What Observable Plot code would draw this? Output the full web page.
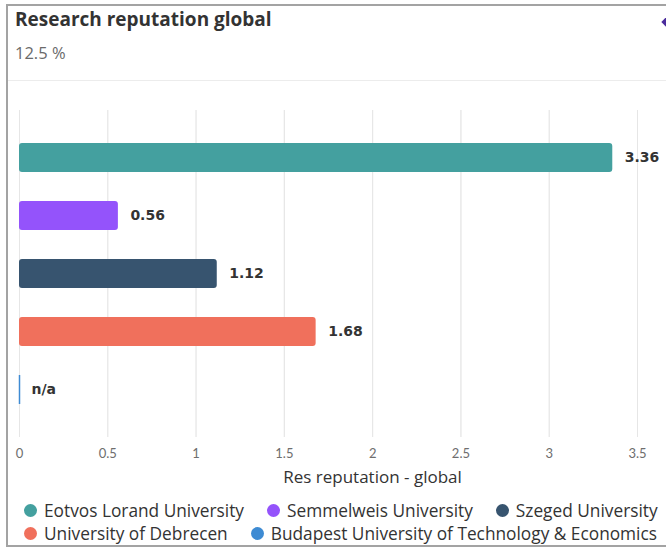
<!DOCTYPE html>
<html>
<head>
<meta charset="utf-8">
<script src="https://cdn.jsdelivr.net/npm/d3@7"></script>
<script src="https://cdn.jsdelivr.net/npm/@observablehq/plot@0.6"></script>
<style>
  html, body { margin: 0; padding: 0; background: #fff; }
  body { width: 666px; height: 547px; overflow: hidden; position: relative; font-family: "Open Sans", "Noto Sans", sans-serif; }
  #frame { position: absolute; left: 6px; top: 4px; width: 720px; height: 539px; border: 2px solid #a3a3a3; box-sizing: content-box; }
  #title { position: absolute; left: 15px; top: 6px; font-size: 19px; font-weight: 700; color: #333; }
  #subtitle { position: absolute; left: 15px; top: 41px; font-size: 16.5px; color: #6a6a6a; }
  #sep { position: absolute; left: 8px; top: 80px; width: 700px; height: 1px; background: #ececec; }
  #diamond { position: absolute; left: 663px; top: 18px; width: 8px; height: 8px; background: #4b2c9c; transform: rotate(45deg); }
  #chart { position: absolute; left: 0; top: 100px; }
  #legend { position: absolute; left: 24px; top: 499px; width: 642px; display: flex; flex-wrap: wrap; column-gap: 23px; row-gap: 0px; font-size: 17.3px; color: #333; line-height: 23px; }
  .item { display: flex; align-items: center; white-space: nowrap; }
  .dot { width: 13px; height: 13px; border-radius: 50%; margin-right: 7px; }
</style>
</head>
<body>
<div id="frame"></div>
<div id="title">Research reputation global</div>
<div id="subtitle">12.5 %</div>
<div id="sep"></div>
<div id="diamond"></div>
<div id="chart"></div>
<div id="legend"></div>
<script>
const universities = [
  "Eotvos Lorand University",
  "Semmelweis University",
  "Szeged University",
  "University of Debrecen",
  "Budapest University of Technology & Economics"
];
const values = [3.36, 0.56, 1.12, 1.68, null];
const colors = ["#44a09f", "#9453fb", "#37546f", "#f0705c", "#3e8bd3"];
const xTicks = [0, 0.5, 1, 1.5, 2, 2.5, 3, 3.5];
const xLabel = "Res reputation - global";

const data = universities.map((name, i) => ({name, value: values[i], color: colors[i]}));
const present = data.filter(d => d.value != null);
const missing = data.filter(d => d.value == null);

const chart = Plot.plot({
  width: 666,
  height: 400,
  marginTop: 10,
  marginBottom: 63,
  marginLeft: 19,
  marginRight: 29,
  style: {fontFamily: "Lato, 'Noto Sans', sans-serif", fontSize: "13px", color: "#6e6e6e", background: "transparent"},
  x: {
    domain: [0, 3.5],
    ticks: xTicks,
    tickFormat: d => String(d),
    grid: true,
    tickSize: 0,
    tickPadding: 11,
    label: null
  },
  y: {
    domain: universities,
    axis: null,
    paddingInner: 0.506,
    paddingOuter: 0.536
  },
  marks: [
    Plot.gridX(xTicks, {stroke: "#e6e6e6", strokeOpacity: 1}),
    Plot.barX(present, {x: "value", y: "name", fill: "color", rx: 3}),
    Plot.tickX(missing, {x: () => 0, y: "name", stroke: "color", strokeWidth: 1.5}),
    Plot.text(data, {
      x: d => d.value ?? 0,
      y: "name",
      text: d => d.value == null ? "n/a" : d.value.toFixed(2),
      textAnchor: "start",
      dx: 12,
      fontWeight: "bold",
      fontSize: 14,
      fontFamily: "'DejaVu Sans', sans-serif",
      fill: "#333"
    }),
    Plot.text([xLabel], {
      frameAnchor: "bottom",
      text: d => d,
      dx: 44,
      dy: 45,
      fontSize: 17,
      fontFamily: "'Open Sans', sans-serif",
      fill: "#333"
    })
  ]
});
document.getElementById("chart").appendChild(chart);

const legend = document.getElementById("legend");
data.forEach(d => {
  const item = document.createElement("div");
  item.className = "item";
  const dot = document.createElement("span");
  dot.className = "dot";
  dot.style.background = d.color;
  const label = document.createElement("span");
  label.textContent = d.name;
  item.appendChild(dot);
  item.appendChild(label);
  legend.appendChild(item);
});
</script>
</body>
</html>
